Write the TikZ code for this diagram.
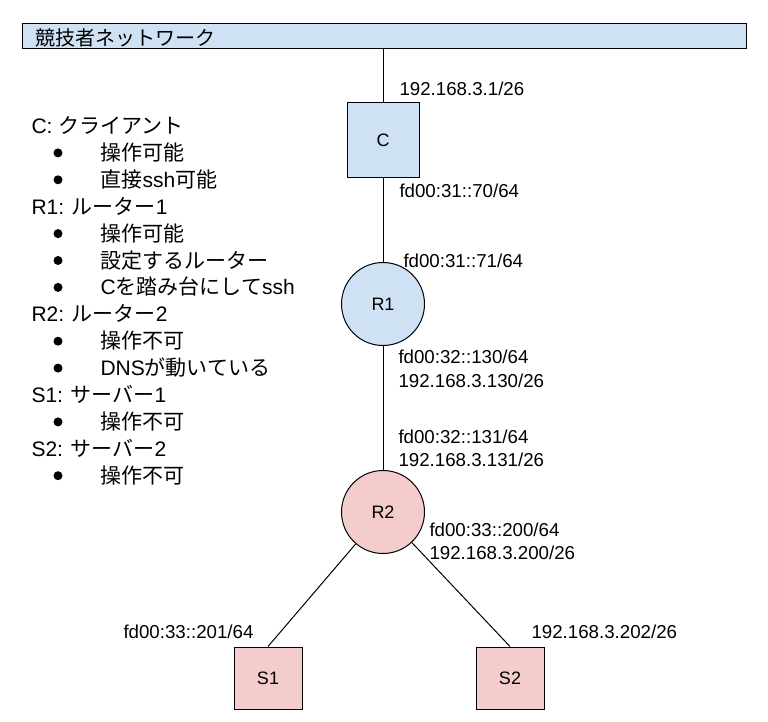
\documentclass[tikz,border=0pt]{standalone}
\usepackage{fontspec}
\setmainfont{Liberation Sans}
\newfontfamily\jp{Noto Sans CJK JP}
\definecolor{netblue}{HTML}{CFE2F3}
\definecolor{netpink}{HTML}{F4CCCC}
\tikzset{
	host/.style={draw, rectangle, inner sep=0pt, font=\fontsize{18}{20}\selectfont},
	router/.style={draw, circle, inner sep=0pt, minimum size=83pt, font=\fontsize{18}{20}\selectfont},
	addr/.style={anchor=west, inner sep=0pt, font=\fontsize{18.7}{22}\selectfont},
	listtext/.style={anchor=base west, inner sep=0pt, font=\fontsize{21}{25}\selectfont}
}
\begin{document}
\begin{tikzpicture}[x=1pt, y=-1pt, line width=1pt]
	\useasboundingbox (0,0) rectangle (768,722);
	\node [draw, fill=netblue, minimum width=724pt, minimum height=25pt, inner sep=0pt] (net) at (384,36.5) {};
	\node [anchor=west, inner sep=0pt, font=\fontsize{20}{22}\selectfont\jp] (nettitle) at (35,37.5) {競技者ネットワーク};
	\node [host, fill=netblue, minimum width=72pt, minimum height=75pt] (C) at (383,140.5) {C};
	\node [router, fill=netblue] (R1) at (383,304) {R1};
	\node [router, fill=netpink] (R2) at (383,512) {R2};
	\node [host, fill=netpink, minimum width=68pt, minimum height=62pt] (S1) at (268,678) {S1};
	\node [host, fill=netpink, minimum width=68pt, minimum height=62pt] (S2) at (510,678) {S2};
	\draw (net.south -| C.north) -- (C.north);
	\draw (C) -- (R1);
	\draw (R1) -- (R2);
	\draw (R2) -- (S1.north);
	\draw (R2) -- (S2.north);
	\node [addr] (ipC4) at (399,89) {192.168.3.1/26};
	\node [addr] (ipC6) at (399,191) {fd00:31::70/64};
	\node [addr] (ipR1a) at (403,261) {fd00:31::71/64};
	\node [addr] (ipR1b) at (398,357) {fd00:32::130/64};
	\node [addr] (ipR1c) at (398,381) {192.168.3.130/26};
	\node [addr] (ipR2a) at (398,437) {fd00:32::131/64};
	\node [addr] (ipR2b) at (398,460) {192.168.3.131/26};
	\node [addr] (ipR2c) at (429,530) {fd00:33::200/64};
	\node [addr] (ipR2d) at (429,553) {192.168.3.200/26};
	\node [addr] (ipS1) at (123,632) {fd00:33::201/64};
	\node [addr] (ipS2) at (531,632) {192.168.3.202/26};
	% list of hosts
	\foreach \k/\txt in {0/{C: {\jp クライアント}}, 3/{R1: {\jp ルーター}1}, 7/{R2: {\jp ルーター}2}, 10/{S1: {\jp サーバー}1}, 12/{S2: {\jp サーバー}2}}
		\node [listtext] (head\k) at (31,{133.5+26.9*\k}) {\txt};
	\foreach \k/\txt in {1/{\jp 操作可能}, 2/{{\jp 直接}ssh{\jp 可能}}, 4/{\jp 操作可能}, 5/{\jp 設定するルーター}, 6/{C{\jp を踏み台にして}ssh}, 8/{\jp 操作不可}, 9/{DNS{\jp が動いている}}, 11/{\jp 操作不可}, 13/{\jp 操作不可}}{
		\fill (58,{126+26.9*\k}) circle (4.5pt);
		\node [listtext] (item\k) at (100,{133.5+26.9*\k}) {\txt};
	}
\end{tikzpicture}
\end{document}
